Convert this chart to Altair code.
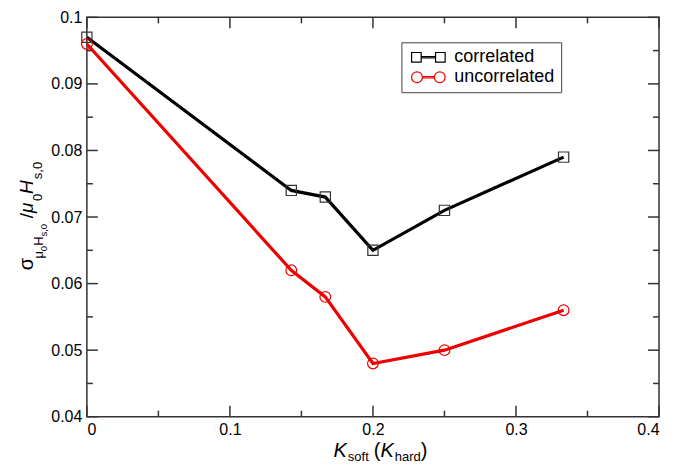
import altair as alt
import pandas as pd

# ---- data ----
k_soft = [0.0, 0.1429, 0.1667, 0.2, 0.25, 0.3333]
correlated = [0.097, 0.074, 0.073, 0.065, 0.071, 0.079]
uncorrelated = [0.096, 0.062, 0.058, 0.048, 0.050, 0.056]
series_names = ["correlated", "uncorrelated"]
x_major = [0.0, 0.1, 0.2, 0.3, 0.4]
x_minor = [0.05, 0.15, 0.25, 0.35]
y_major = [0.04, 0.05, 0.06, 0.07, 0.08, 0.09, 0.1]
y_minor = [0.045, 0.055, 0.065, 0.075, 0.085, 0.095]

FONT = "Liberation Sans"
W, H = 573, 400
MAJ, MIN = 11, 6

xs = alt.Scale(domain=[0, 0.4], nice=False, zero=False)
ys = alt.Scale(domain=[0.04, 0.1], nice=False, zero=False)
ax_x = alt.Axis(values=x_major, format="~g", title=None, ticks=False, domain=False,
                grid=False, labelFont=FONT, labelFontSize=16, labelColor="black",
                labelPadding=5)
ax_y = alt.Axis(values=y_major, format="~g", title=None, ticks=False, domain=False,
                grid=False, labelFont=FONT, labelFontSize=16, labelColor="black",
                labelPadding=5)

df_c = pd.DataFrame({"k": k_soft, "v": correlated})
df_u = pd.DataFrame({"k": k_soft, "v": uncorrelated})


def X(f="k"):
    return alt.X(f"{f}:Q", scale=xs, axis=ax_x)


def Y(f="v"):
    return alt.Y(f"{f}:Q", scale=ys, axis=ax_y)


line_c = alt.Chart(df_c).mark_line(color="black", strokeWidth=3.2).encode(x=X(), y=Y())
line_u = alt.Chart(df_u).mark_line(color="#ee0000", strokeWidth=3.2).encode(x=X(), y=Y())
pts_c = alt.Chart(df_c).mark_point(shape="square", size=105, filled=False, strokeWidth=1.2,
                                   color="#333333", opacity=1).encode(x=X(), y=Y())
pts_u = alt.Chart(df_u).mark_point(shape="circle", size=115, filled=False, strokeWidth=1.2,
                                   color="#ee0000", opacity=1).encode(x=X(), y=Y())

# ---- inward ticks on all four sides ----
tick_layers = []
for vals, ln in ((x_major, MAJ), (x_minor, MIN)):
    d = pd.DataFrame({"t": vals})
    tick_layers.append(alt.Chart(d).mark_rule(color="#333333", strokeWidth=1.5).encode(
        x=X("t"), y=alt.value(H), y2=alt.value(H - ln)))
    tick_layers.append(alt.Chart(d).mark_rule(color="#333333", strokeWidth=1.5).encode(
        x=X("t"), y=alt.value(0), y2=alt.value(ln)))
for vals, ln in ((y_major, MAJ), (y_minor, MIN)):
    d = pd.DataFrame({"t": vals})
    tick_layers.append(alt.Chart(d).mark_rule(color="#333333", strokeWidth=1.5).encode(
        y=Y("t"), x=alt.value(0), x2=alt.value(ln)))
    tick_layers.append(alt.Chart(d).mark_rule(color="#333333", strokeWidth=1.5).encode(
        y=Y("t"), x=alt.value(W), x2=alt.value(W - ln)))

# ---- legend (custom symbols: line with markers at both ends) ----
sq_path = ("M-2.8,-0.8H-1.2V0.8H-2.8Z M1.2,-0.8H2.8V0.8H1.2Z "
           "M-1.2,-0.12H1.2 M-1.2,0.12H1.2")
ci_path = ("M-2.8,0a0.9,0.9 0 1,0 1.8,0a0.9,0.9 0 1,0 -1.8,0Z "
           "M1.0,0a0.9,0.9 0 1,0 1.8,0a0.9,0.9 0 1,0 -1.8,0Z "
           "M-1.0,-0.12H1.0 M-1.0,0.12H1.0")
leg_df = pd.DataFrame({"series": series_names, "k": [0.0, 0.0], "v": [0.04, 0.04]})
legend = alt.Legend(title=None, orient="none", legendX=315, legendY=25,
                    strokeColor="#444444", fillColor="white", padding=6,
                    labelFont=FONT, labelFontSize=18, labelColor="black",
                    symbolSize=144, symbolStrokeWidth=1.2, symbolOffset=12,
                    labelOffset=17, rowPadding=2)
leg_layer = alt.Chart(leg_df).transform_filter("false").mark_point(
    filled=False, opacity=1).encode(
    x=X(), y=Y(),
    color=alt.Color("series:N", scale=alt.Scale(domain=series_names, range=["black", "#ee0000"]),
                    legend=legend),
    shape=alt.Shape("series:N", scale=alt.Scale(domain=series_names, range=[sq_path, ci_path]),
                    legend=legend),
)

# ---- axis titles built from text pieces (sub/superscripts) ----
one = pd.DataFrame({"a": [0]})
EM = {"σ": 0.58, "μ": 0.576, "H": 0.722, "0": 0.556, "s": 0.5, ",": 0.278, "/": 0.278,
      "K": 0.667, "o": 0.556, "f": 0.278, "t": 0.278, "h": 0.556, "a": 0.556,
      "r": 0.333, "d": 0.556, " ": 0.278, "(": 0.333, ")": 0.333}


def tw(s, size):
    return sum(EM.get(c, 0.55) for c in s) * size


def piece(s, x, y, size, italic=False, angle=0):
    return alt.Chart(one).mark_text(
        text=s, font=FONT, fontSize=size, fontStyle="italic" if italic else "normal",
        angle=angle, align="left", baseline="alphabetic", color="black"
    ).encode(x=alt.value(x), y=alt.value(y))


title_layers = []
# x title: K_soft (K_hard); entries are (text, size, baseline shift, italic, extra gap)
xp = [("K", 20, 0, True, 0), ("soft", 13, 4, False, 5), ("(", 20, 0, False, 0),
      ("K", 20, 0, True, 0), ("hard", 13, 4, False, 0), (")", 20, 0, False, 0)]
xtot = sum(tw(s, sz) + g for s, sz, _, _, g in xp)
cx = 293 - xtot / 2
for s, sz, off, it, g in xp:
    title_layers.append(piece(s, cx, 440 + off, sz, it))
    cx += tw(s, sz) + g + (1 if it else 0)

# y title: sigma_{mu0 Hs,0} / mu0 Hs,0 (rotated)
base = -54
yp = [("σ", 20, 0, False), ("μ", 13, 10, False), ("0", 9.5, 14, False),
      ("H", 13, 10, False), ("s,0", 9.5, 14, False), ("  ", 10, 0, False),
      ("/", 19, 0, False), ("μ", 19, 0, True), ("0", 13, 9, False),
      ("H", 19, 0, True), ("s,0", 13, 9, False)]
total = sum(tw(s, sz) for s, sz, _, _ in yp)
cy = H / 2 + total / 2
for s, sz, off, it in yp:
    if s.strip():
        title_layers.append(piece(s, base + off, cy, sz, it, angle=270))
    cy -= tw(s, sz) + (1 if it else 0)

chart = alt.layer(
    *tick_layers, line_c, line_u, pts_c, pts_u, leg_layer, *title_layers
).properties(
    width=W, height=H,
    autosize=alt.AutoSizeParams(type="none"),
    padding={"left": 79, "top": 9, "right": 8, "bottom": 52},
    background="white",
).configure_view(stroke="#333333", strokeWidth=1.5)

chart.save("out.html", embed_options={"renderer": "svg", "actions": False})
